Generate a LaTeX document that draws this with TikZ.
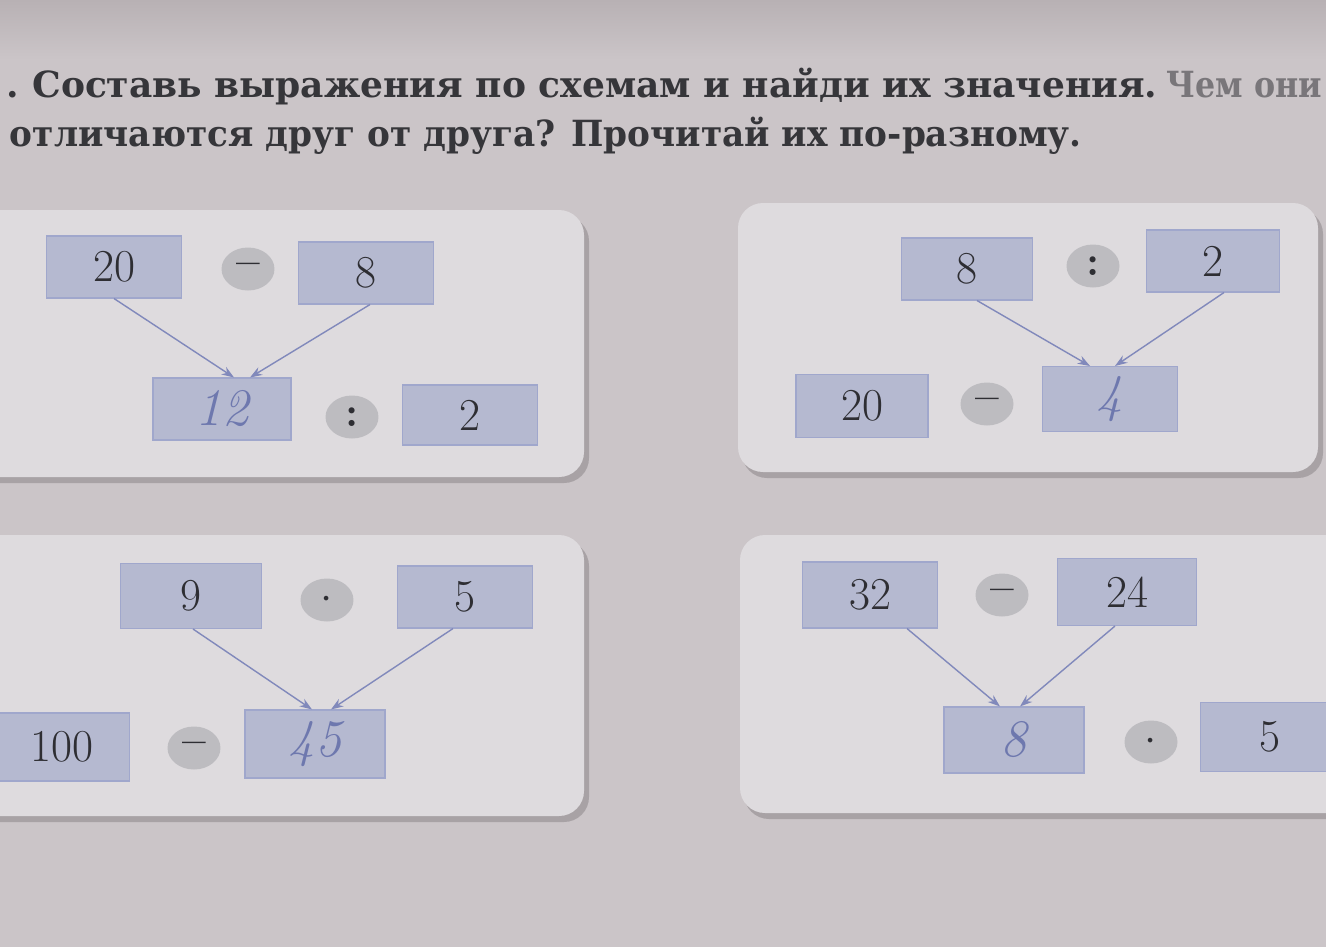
\documentclass[tikz,border=0pt]{standalone}
\usepackage{fontspec}
\usepackage{graphicx}
\usetikzlibrary{arrows.meta,shapes.geometric}
\newfontfamily\hdrfont{DejaVu Serif}
\definecolor{pagebg}{HTML}{CBC5C8}
\definecolor{pagetop}{HTML}{B8B1B4}
\definecolor{cardbg}{HTML}{DEDBDE}
\definecolor{cardsh}{HTML}{A8A2A5}
\definecolor{boxfill}{HTML}{B5B9D0}
\definecolor{boxedge}{HTML}{A0A7CC}
\definecolor{opfill}{HTML}{BDBCC0}
\definecolor{numcol}{HTML}{2E2E33}
\definecolor{pen}{HTML}{6E78AE}
\definecolor{arrcol}{HTML}{8189BB}
\definecolor{hdrcol}{HTML}{36363A}
\begin{document}
\begin{tikzpicture}[x=0.02cm,y=-0.02cm,
 numbox/.style={draw=boxedge, line width=0.6pt, fill=boxfill, minimum width=2.7cm, minimum height=1.24cm, inner sep=0pt, font=\fontsize{26}{26}\selectfont, text=numcol},
 ansbox/.style={numbox, font=\fontsize{30}{30}\selectfont\itshape, text=pen},
 opcirc/.style={ellipse, fill=opfill, minimum width=1.06cm, minimum height=0.86cm, inner sep=0pt, font=\fontsize{24}{24}\selectfont\bfseries, text=numcol},
 card/.style={fill=cardbg, rounded corners=0.5cm},
 cardshadow/.style={fill=cardsh, rounded corners=0.5cm},
 link/.style={draw=arrcol, line width=0.8pt, -{Stealth[length=7pt,width=5pt]}},
 hdr/.style={font=\hdrfont\bfseries\fontsize{20.5}{20.5}\selectfont, text=hdrcol, inner sep=0pt}
]
\useasboundingbox (0,0) rectangle (1326,947);
\fill[pagebg] (0,0) rectangle (1326,947);
\shade[top color=pagetop, bottom color=pagebg] (0,0) rectangle (1326,60);
\clip (0,0) rectangle (1326,947);

% header
\node[hdr, anchor=base west] (t0) at (6,97) {.};
\node[hdr, anchor=base west] (t1) at (32,97) {Составь выражения по схемам и найди их значения.};
\node[hdr, anchor=base west, text=hdrcol!55!pagebg] (t2) at (1166,97) {\scalebox{0.88}[1]{Чем они}};
\node[hdr, anchor=base east] (t3) at (1082,146) {\scalebox{0.952}[1]{отличаются друг от друга? Прочитай их по-разному.}};

% cards
\fill[cardshadow] (-36,216) rectangle (589,483);
\fill[card] (-40,210) rectangle (584,477);
\fill[cardshadow] (742,209) rectangle (1323,478);
\fill[card] (738,203) rectangle (1318,472);
\fill[cardshadow] (-36,541) rectangle (589,822);
\fill[card] (-40,535) rectangle (584,816);
\fill[cardshadow] (744,541) rectangle (1365,819);
\fill[card] (740,535) rectangle (1360,813);

% card 1
\node[numbox] (a1) at (114,267) {20};
\node[opcirc] (ao1) at (248,269) {–};
\node[numbox] (a2) at (366,273) {8};
\node[ansbox, minimum width=2.76cm] (a3) at (222,409) {12};
\node[opcirc] (ao2) at (352,417) {:};
\node[numbox, minimum height=1.2cm] (a4) at (470,415) {2};
\draw[link] (a1.south) -- ([xshift=0.24cm]a3.north);
\draw[link] ([xshift=0.08cm]a2.south) -- ([xshift=0.56cm]a3.north);

% card 2
\node[numbox, minimum width=2.62cm] (b1) at (967,269) {8};
\node[opcirc] (bo1) at (1093,266) {:};
\node[numbox, minimum width=2.66cm] (b2) at (1213,261) {2};
\node[numbox, minimum width=2.64cm, minimum height=1.26cm] (b3) at (862,406) {20};
\node[opcirc] (bo2) at (987,404) {–};
\node[ansbox, minimum height=1.3cm] (b4) at (1110,399) {4};
\draw[link] ([xshift=0.2cm]b1.south) -- ([xshift=-0.4cm]b4.north);
\draw[link] ([xshift=0.22cm]b2.south) -- ([xshift=0.1cm]b4.north);

% card 3
\node[numbox, minimum width=2.82cm, minimum height=1.3cm] (c1) at (191,596) {9};
\node[opcirc] (co1) at (327,600) {$\cdot$};
\node[numbox] (c2) at (465,597) {5};
\node[numbox, minimum height=1.36cm] (c3) at (62,747) {100};
\node[opcirc] (co2) at (194,748) {–};
\node[ansbox, minimum width=2.8cm, minimum height=1.36cm] (c4) at (315,744) {45};
\draw[link] ([xshift=0.04cm]c1.south) -- ([xshift=-0.06cm]c4.north);
\draw[link] ([xshift=-0.24cm]c2.south) -- ([xshift=0.32cm]c4.north);

% card 4
\node[numbox, minimum height=1.32cm] (d1) at (870,595) {32};
\node[opcirc] (do1) at (1002,595) {–};
\node[numbox, minimum width=2.78cm, minimum height=1.34cm] (d2) at (1127,592) {24};
\node[ansbox, minimum width=2.8cm, minimum height=1.32cm] (d3) at (1014,740) {8};
\node[opcirc] (do2) at (1151,742) {$\cdot$};
\node[numbox, minimum width=2.78cm, minimum height=1.38cm] (d4) at (1270,737) {5};
\draw[link] ([xshift=0.74cm]d1.south) -- ([xshift=-0.28cm]d3.north);
\draw[link] ([xshift=-0.24cm]d2.south) -- ([xshift=0.12cm]d3.north);
\end{tikzpicture}
\end{document}
